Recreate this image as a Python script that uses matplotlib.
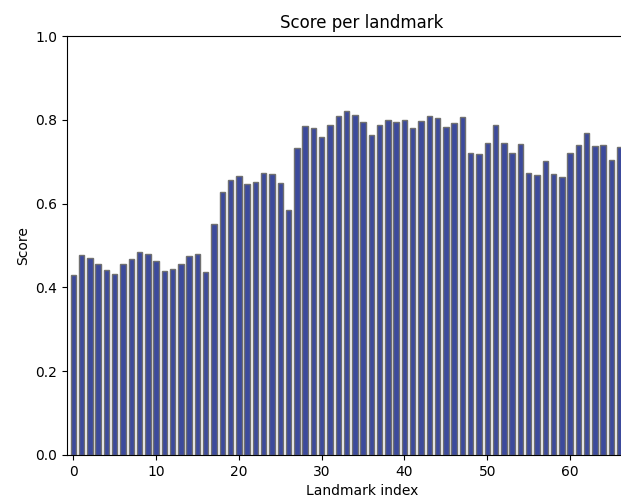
import numpy as np
import matplotlib
matplotlib.use("Agg")
import matplotlib.pyplot as plt

# score for each landmark index
scores = [
    0.430, 0.477, 0.469, 0.456, 0.442, 0.432, 0.455, 0.467, 0.485, 0.480,
    0.462, 0.440, 0.443, 0.456, 0.475, 0.480, 0.437, 0.551, 0.628, 0.656,
    0.665, 0.648, 0.652, 0.674, 0.671, 0.650, 0.584, 0.733, 0.785, 0.780,
    0.759, 0.788, 0.809, 0.821, 0.811, 0.795, 0.764, 0.788, 0.800, 0.794,
    0.800, 0.780, 0.798, 0.809, 0.804, 0.784, 0.792, 0.807, 0.720, 0.718,
    0.745, 0.788, 0.744, 0.722, 0.742, 0.672, 0.668, 0.702, 0.670, 0.663,
    0.722, 0.739, 0.768, 0.737, 0.740, 0.703, 0.735,
]
landmarks = np.arange(len(scores))

fig = plt.figure(figsize=(6.21, 5.01), dpi=100)
# axes run past the right edge of the figure
ax = fig.add_axes([0.108, 0.092, 0.95, 0.836])

ax.bar(landmarks, scores, width=0.66, color="#3c4a9c", edgecolor="#707070", linewidth=1.0)

ax.set_xlim(-0.75, 70.5)
ax.set_ylim(0, 1.0)
ax.set_xticks([0, 10, 20, 30, 40, 50, 60])
ax.set_yticks([0.0, 0.2, 0.4, 0.6, 0.8, 1.0])
ax.set_xlabel("Landmark index", labelpad=4)
ax.set_ylabel("Score")
ax.set_title("Score per landmark")

fig.savefig("out.png", dpi=100)
